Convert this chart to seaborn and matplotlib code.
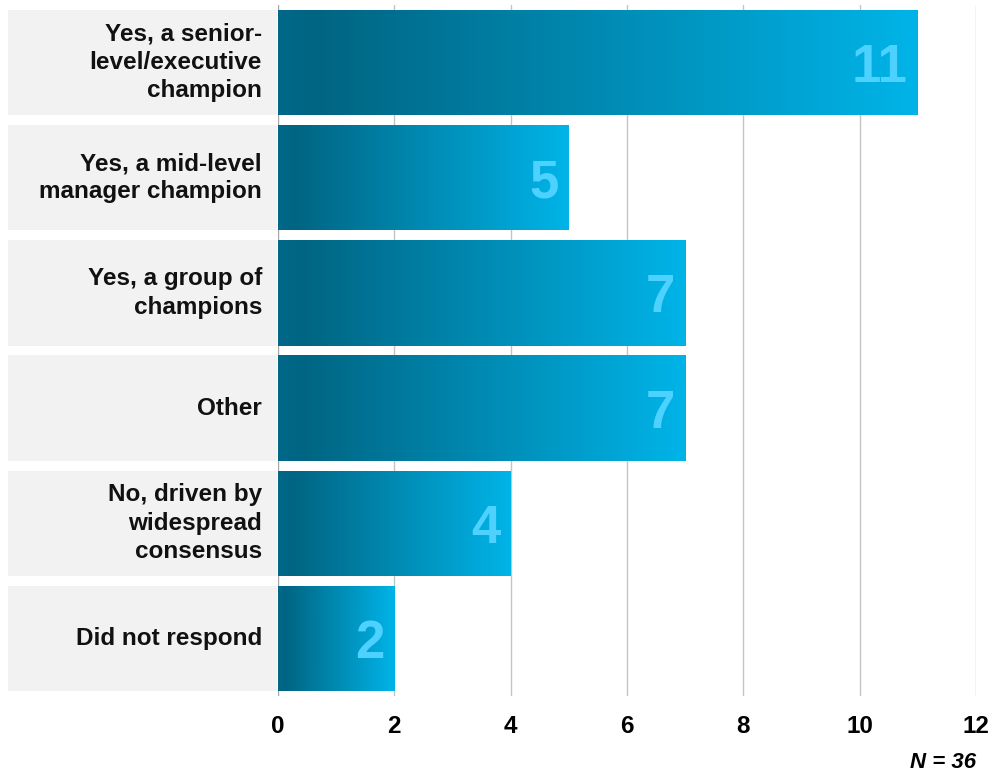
import numpy as np
import pandas as pd
import matplotlib
matplotlib.use("Agg")
import matplotlib.pyplot as plt
import seaborn as sns
from matplotlib.colors import LinearSegmentedColormap
from matplotlib.patches import Rectangle
from matplotlib.transforms import blended_transform_factory

categories = ["Yes, a senior-\nlevel/executive\nchampion",
              "Yes, a mid-level\nmanager champion",
              "Yes, a group of\nchampions",
              "Other",
              "No, driven by\nwidespread\nconsensus",
              "Did not respond"]
values = [11, 5, 7, 7, 4, 2]
xticks = [0, 2, 4, 6, 8, 10, 12]
note = "N = 36"

sns.set_theme(style="white")
plt.rcParams['font.family'] = ['Liberation Sans', 'DejaVu Sans']

df = pd.DataFrame({"category": categories, "value": values})

W, H = 991, 774
fig = plt.figure(figsize=(W / 100, H / 100), dpi=100)
ax = fig.add_axes([278 / W, 1 - 696 / H, (976 - 278) / W, (696 - 5) / H])

sns.barplot(data=df, y="category", x="value", orient="h", ax=ax,
            width=0.915, color="#0090c0", saturation=1)

ax.set_xlim(0, 12)
ax.set_ylim(5.5, -0.5)
ax.set_xticks(xticks)
ax.set_xticklabels([str(t) for t in xticks], fontsize=17.5, fontweight="bold", color="black")
ax.tick_params(axis="x", length=0, pad=14)
ax.set_yticks([])
ax.set_xlabel("")
ax.set_ylabel("")
for s in ax.spines.values():
    s.set_visible(False)
ax.grid(False)
for t in xticks:
    ax.axvline(t, color="#c4c4c4" if t else "#a8a8a8", lw=1.0, zorder=0.5)

cmap = LinearSegmentedColormap.from_list(
    "g", [(0, "#006888"), (0.06, "#006583"), (1.0, "#00b4e8")])
grad = np.linspace(0, 1, 256).reshape(1, -1)

trans = blended_transform_factory(fig.transFigure, ax.transData)
for i, p in enumerate(ax.patches):
    x0, y0 = p.get_x(), p.get_y()
    w, h = p.get_width(), p.get_height()
    p.set_facecolor("none")
    p.set_edgecolor("none")
    im = ax.imshow(grad, cmap=cmap, aspect="auto", extent=[x0, x0 + w, y0 + h, y0],
                   zorder=2, interpolation="bicubic")
    im.set_clip_path(p)
    # label box
    ax.add_patch(Rectangle((8 / W, y0), (277 - 8) / W, h, transform=trans,
                           facecolor="#f2f2f2", edgecolor="none", clip_on=False, zorder=1))
    ax.text(262 / W, y0 + h / 2, categories[i], transform=trans, ha="right", va="center",
            fontsize=17.5, fontweight="bold", color="#111111", linespacing=1.3, clip_on=False)
    ax.text(x0 + w - 10 / 58.17, y0 + h / 2, str(values[i]), ha="right", va="center_baseline",
            fontsize=38, fontweight="bold", color="#4dd2ff", zorder=3)

ax.set_ylim(5.5, -0.5)
ax.set_xlim(0, 12)

fig.text(976 / W, 1 - 763 / H, note, ha="right", va="center", fontsize=16,
         fontweight="bold", fontstyle="italic", color="black")

fig.savefig("out.png", dpi=100)
